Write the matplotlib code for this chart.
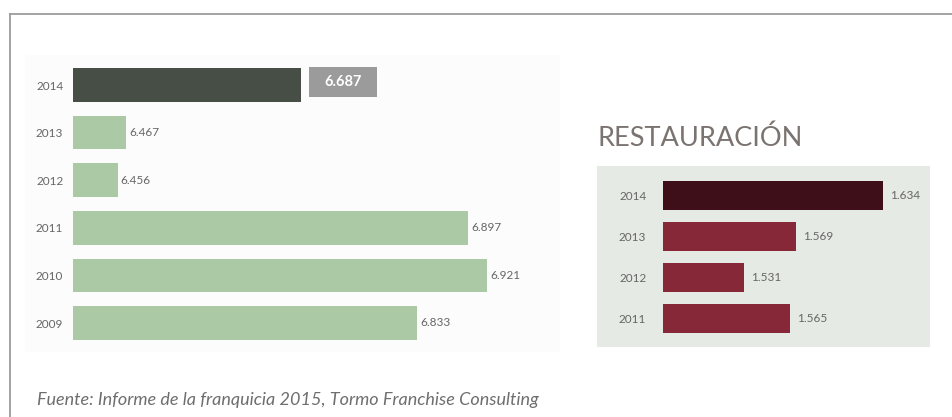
import matplotlib.pyplot as plt
from matplotlib.patches import Rectangle
from matplotlib.lines import Line2D

# data
years_total = ['2014', '2013', '2012', '2011', '2010', '2009']
values_total = [6687, 6467, 6456, 6897, 6921, 6833]
labels_total = ['6.687', '6.467', '6.456', '6.897', '6.921', '6.833']

years_rest = ['2014', '2013', '2012', '2011']
values_rest = [1634, 1569, 1531, 1565]
labels_rest = ['1.634', '1.569', '1.531', '1.565']

W, H = 953, 417
plt.rcParams['font.family'] = ['Lato', 'DejaVu Sans']

fig = plt.figure(figsize=(W / 100, H / 100), dpi=100)
fig.patch.set_facecolor('white')

def px_box(x0, y0, x1, y1):  # pixel box (top-left origin) -> figure fraction
    return [x0 / W, 1 - y1 / H, (x1 - x0) / W, (y1 - y0) / H]

# outer frame lines (left + top)
fig.add_artist(Line2D([10 / W, 10 / W], [0, 1 - 14 / H], color='#9c9c9c', lw=1.3))
fig.add_artist(Line2D([10 / W, 1], [1 - 14 / H, 1 - 14 / H], color='#9c9c9c', lw=1.3))

# faint background behind the left chart
b = px_box(25, 55, 560, 352)
fig.add_artist(Rectangle((b[0], b[1]), b[2], b[3], transform=fig.transFigure,
                         facecolor='#fcfcfc', edgecolor='none', zorder=0))

# panel behind the right chart
b = px_box(597, 166, 930, 347)
fig.add_artist(Rectangle((b[0], b[1]), b[2], b[3], transform=fig.transFigure,
                         facecolor='#e6eae4', edgecolor='none', zorder=0))

txt_col = '#666666'

# ---- left chart
ax1 = fig.add_axes(px_box(73, 61.2, 560, 346.8))
ax1.patch.set_alpha(0)
col1 = ['#464e45'] + ['#abc9a5'] * (len(years_total) - 1)
pos1 = list(range(len(years_total)))
ax1.barh(pos1, values_total, height=0.71, left=0, color=col1)
ax1.set_xlim(6400, 6400 + 487 / 0.795)
ax1.set_ylim(len(years_total) - 0.5, -0.5)
ax1.set_yticks(pos1)
ax1.set_yticklabels(years_total, fontsize=8.5, color=txt_col)
ax1.tick_params(axis='y', length=0, pad=7)
ax1.set_xticks([])
for s in ax1.spines.values():
    s.set_visible(False)

fig.canvas.draw()
for i, (v, lab) in enumerate(zip(values_total, labels_total)):
    if i == 0:
        # highlighted value in a grey box
        xd, yd = ax1.transData.transform((v, i))
        bw, bh = 68, 30
        ax1.add_patch(Rectangle((xd + 8, yd + 3 - bh / 2), bw, bh, transform=None,
                                facecolor='#9b9b9b', edgecolor='none',
                                clip_on=False, zorder=3))
        ax1.annotate(lab, (v, i), xytext=(8 + bw / 2, 3), textcoords='offset pixels',
                     ha='center', va='center', color='white', fontsize=10.5,
                     fontweight='bold', zorder=4)
    else:
        ax1.annotate(lab, (v, i), xytext=(2, 0), textcoords='offset points',
                     ha='left', va='center', color=txt_col, fontsize=8.5)

# ---- right chart
fig.text(598 / W, 1 - 146 / H, 'RESTAURACIÓN', fontsize=19.5, color='#7a7370',
         ha='left', va='baseline')

ax2 = fig.add_axes(px_box(663, 175, 930, 339))
ax2.patch.set_alpha(0)
col2 = ['#3e0f19'] + ['#872839'] * (len(years_rest) - 1)
pos2 = list(range(len(years_rest)))
x0 = 1470.6
ax2.barh(pos2, [v - x0 for v in values_rest], left=x0, height=0.71, color=col2)
ax2.set_xlim(x0, x0 + 267 / 1.349)
ax2.set_ylim(len(years_rest) - 0.5, -0.5)
ax2.set_yticks(pos2)
ax2.set_yticklabels(years_rest, fontsize=8.5, color=txt_col)
ax2.tick_params(axis='y', length=0, pad=12)
ax2.set_xticks([])
for s in ax2.spines.values():
    s.set_visible(False)
for i, (v, lab) in enumerate(zip(values_rest, labels_rest)):
    ax2.annotate(lab, (v, i), xytext=(5, 0), textcoords='offset points',
                 ha='left', va='center', color=txt_col, fontsize=8.5)

# source note
fig.text(37 / W, 1 - 405 / H,
         'Fuente: Informe de la franquicia 2015, Tormo Franchise Consulting',
         fontsize=13, style='italic', color='#6e6e6e', ha='left', va='baseline')

fig.savefig('out.png', dpi=100)
